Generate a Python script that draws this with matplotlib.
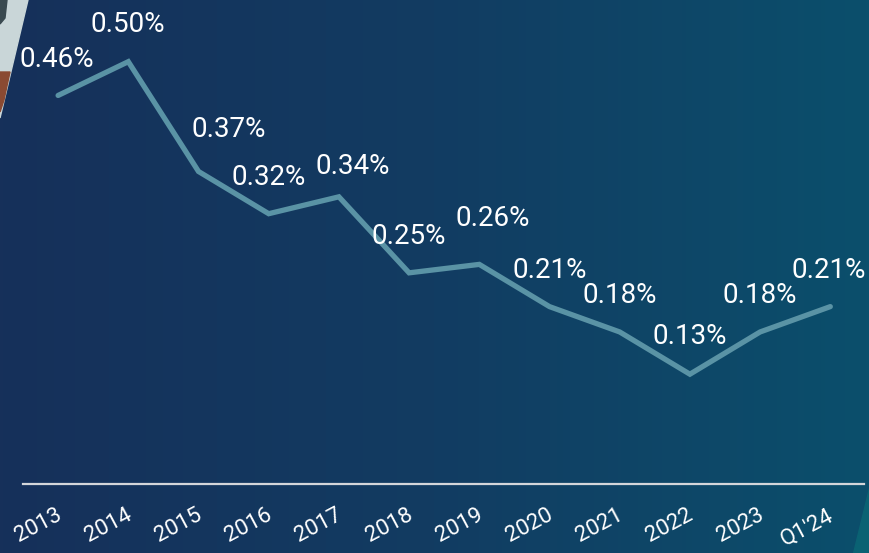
import numpy as np
import matplotlib
matplotlib.use("Agg")
import matplotlib.pyplot as plt
from matplotlib.colors import LinearSegmentedColormap
from matplotlib.transforms import ScaledTranslation

years = ["2013", "2014", "2015", "2016", "2017", "2018", "2019",
         "2020", "2021", "2022", "2023", "Q1'24"]
rates = [0.46, 0.50, 0.37, 0.32, 0.34, 0.25, 0.26, 0.21, 0.18, 0.13, 0.18, 0.21]
labels = ["0.46%", "0.50%", "0.37%", "0.32%", "0.34%", "0.25%", "0.26%",
          "0.21%", "0.18%", "0.13%", "0.18%", "0.21%"]

# label nudges (points) relative to each vertex
label_dx = [-1, 0, 22, 0, 10, 0, 10, 0, 0, 0, 0, -1]
label_dy = [26, 27, 30, 26, 22, 26, 33, 26, 26, 27, 26, 26]

plt.rcParams['font.family'] = ['Roboto', 'DejaVu Sans']

fig = plt.figure(figsize=(8.69, 5.53), dpi=100)

# background gradient
bg = fig.add_axes([0, 0, 1, 1], zorder=0)
cmap = LinearSegmentedColormap.from_list("bg", ["#16305a", "#123c62", "#0b4f6c"])
grad = np.linspace(0, 1, 256).reshape(1, -1)
bg.imshow(grad, aspect='auto', cmap=cmap, extent=[0, 1, 0, 1])
# photo corner top-left (pixel coords converted)
W, H = 869.0, 553.0
px = lambda xs: [v / W for v in xs]
py = lambda ys: [1 - v / H for v in ys]
bg.fill(px([0, 28, 0]), py([0, 0, 118]), color="#c9d6d8", zorder=2)
bg.fill(px([0, 7, 5, 0]), py([0, 0, 18, 24]), color="#3a4a50", zorder=3)
bg.fill(px([0, 10, 4, 0]), py([72, 72, 100, 112]), color="#8a4a32", zorder=3)
# lighter teal sliver bottom-right
bg.fill(px([869, 869, 853]), py([488, 553, 553]), color="#0a6273", zorder=2)
bg.set_xlim(0, 1)
bg.set_ylim(0, 1)
bg.axis('off')

ax = fig.add_axes([23 / W, 69 / H, 841 / W, 484 / H], zorder=1)
ax.patch.set_alpha(0)
x = np.arange(len(years))
ax.plot(x, rates, color="#5a93a5", lw=3.8, solid_capstyle='round',
        solid_joinstyle='miter')

for i, (xi, yi) in enumerate(zip(x, rates)):
    ax.annotate(labels[i], (xi, yi), xytext=(label_dx[i], label_dy[i]),
                textcoords='offset points', ha='center', va='center',
                color='white', fontsize=20)

ax.set_xlim(-0.5, 11.48)
ax.set_ylim(0, 0.573)
for s in ['top', 'right', 'left']:
    ax.spines[s].set_visible(False)
ax.spines['bottom'].set_color('#d4d6da')
ax.spines['bottom'].set_linewidth(1.6)
ax.set_yticks([])
ax.set_xticks(x)
ax.set_xticklabels(years, rotation=28, ha='right', color='white', fontsize=16)
ax.tick_params(axis='x', length=0, pad=15)
shift = ScaledTranslation(5 / 72, 0, fig.dpi_scale_trans)
for lbl in ax.get_xticklabels():
    lbl.set_transform(lbl.get_transform() + shift)

fig.savefig("out.png", dpi=100)
